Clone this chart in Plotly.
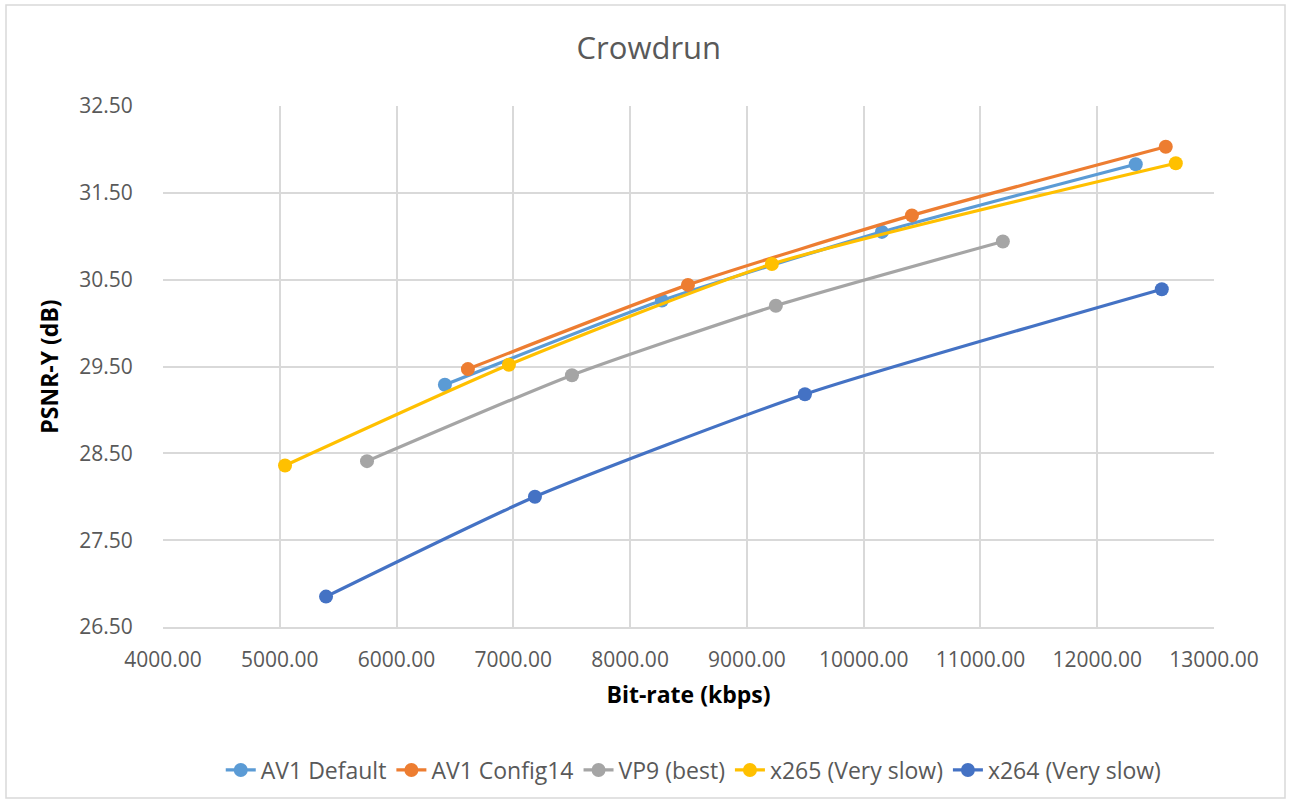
import plotly.graph_objects as go

series_names = ["AV1 Default", "AV1 Config14", "VP9 (best)", "x265 (Very slow)", "x264 (Very slow)"]
colors = ["#5B9BD5", "#ED7D31", "#A5A5A5", "#FFC000", "#4472C4"]

av1_default_x = [6414, 8272, 10156, 12330]
av1_default_y = [29.29, 30.26, 31.05, 31.83]
av1_cfg14_x = [6611, 8495, 10413, 12587]
av1_cfg14_y = [29.47, 30.44, 31.24, 32.03]
vp9_x = [5747, 7502, 9248, 11192]
vp9_y = [28.41, 29.40, 30.20, 30.94]
x265_x = [5045, 6962, 9214, 12673]
x265_y = [28.36, 29.52, 30.68, 31.84]
x264_x = [5396, 7185, 9497, 12553]
x264_y = [26.85, 28.00, 29.18, 30.39]

xs = [av1_default_x, av1_cfg14_x, vp9_x, x265_x, x264_x]
ys = [av1_default_y, av1_cfg14_y, vp9_y, x265_y, x264_y]

FONT = "Open Sans, sans-serif"

fig = go.Figure()
for name, c, x, y in zip(series_names, colors, xs, ys):
    fig.add_trace(go.Scatter(
        x=x, y=y, name=name, mode="lines+markers",
        line=dict(color=c, width=3.2, shape="spline", smoothing=0.6),
        marker=dict(color=c, size=14),
    ))

W, H = 1290, 803
L, R, T, B = 163, 76, 106, 176
pw, ph = W - L - R, H - T - B

fig.update_layout(
    width=W, height=H,
    paper_bgcolor="white", plot_bgcolor="white",
    margin=dict(l=L, r=R, t=T, b=B),
    font=dict(family=FONT, color="#595959", size=21),
    title=dict(text="Crowdrun", x=0.503, xanchor="center", y=1 - 48 / H, yanchor="middle",
               font=dict(size=31, color="#595959", family=FONT)),
    showlegend=True,
    legend=dict(orientation="h", x=0.505, xanchor="center", y=-(770 - 627) / ph, yanchor="middle",
                font=dict(size=23, color="#595959"), tracegroupgap=0),
    xaxis=dict(range=[4000, 13000], dtick=1000, tickformat=".2f",
               showgrid=True, gridcolor="#D9D9D9", gridwidth=1.5,
               zeroline=False, showline=True, linecolor="#D9D9D9", linewidth=1.5, mirror=False,
               ticks="outside", ticklen=13, tickcolor="rgba(0,0,0,0)",
               title=dict(text="<b>Bit-rate (kbps)</b>", font=dict(size=23, color="#000000"), standoff=15),
               tickfont=dict(size=21, color="#595959")),
    yaxis=dict(range=[26.5, 32.5], dtick=1, tick0=26.5, tickformat=".2f",
               showgrid=True, gridcolor="#D9D9D9", gridwidth=1.5,
               zeroline=False, showline=False,
               ticks="outside", ticklen=25, tickcolor="rgba(0,0,0,0)",
               title=dict(text="<b>PSNR-Y (dB)</b>", font=dict(size=23, color="#000000"), standoff=14),
               tickfont=dict(size=21, color="#595959")),
)

fig.add_shape(type="rect", xref="paper", yref="paper",
              x0=(6 - L) / pw, x1=(1285 - L) / pw, y0=-(798 - T - ph) / ph, y1=(T + ph - 5) / ph,
              line=dict(color="#D9D9D9", width=1.5), fillcolor="rgba(0,0,0,0)", layer="below")

fig.write_html("out.html", config={"displayModeBar": False},
               post_script="document.body.style.margin='0';")
